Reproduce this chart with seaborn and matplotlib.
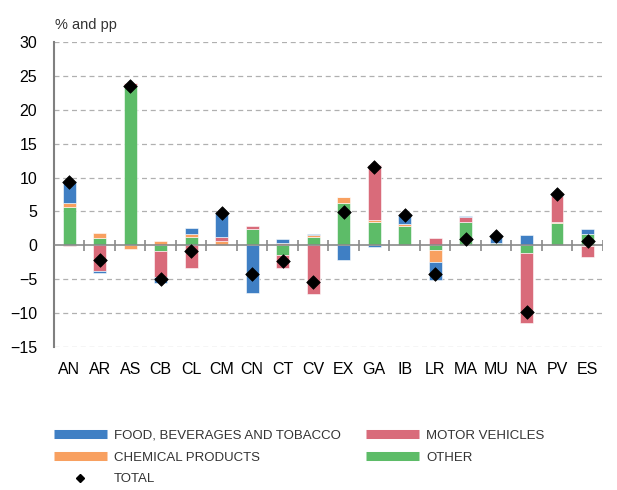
import numpy as np
import pandas as pd
import matplotlib
matplotlib.use('Agg')
import matplotlib.pyplot as plt
from matplotlib.lines import Line2D
import seaborn as sns

# data (% and pp)
regions = ['AN', 'AR', 'AS', 'CB', 'CL', 'CM', 'CN', 'CT', 'CV', 'EX',
           'GA', 'IB', 'LR', 'MA', 'MU', 'NA', 'PV', 'ES']
other = [5.7, 1.13, 23.6, -0.84, 1.23, 0.0, 2.46, -1.48, 1.23, 6.3,
         3.5, 2.86, -0.74, 3.5, 0.3, -1.18, 3.25, 1.67]
chemical = [0.49, 0.64, -0.5, 0.6, 0.44, 0.64, 0.0, 0.35, 0.25, 0.89,
            0.25, 0.3, -1.67, 0.0, 0.0, 0.0, 0.25, -0.1]
motor = [-0.1, -3.84, 0.3, -3.9, -3.4, 0.54, 0.34, -1.82, -7.19, 0.0,
         8.13, 0.0, 1.08, 0.74, 0.0, -10.25, 3.84, -1.57]
food = [3.3, -0.2, 0.0, -0.8, 0.89, 3.64, -7.0, 0.55, 0.25, -2.17,
        -0.3, 1.28, -2.76, 0.1, 1.13, 1.58, 0.25, 0.69]
total = [9.4, -2.2, 23.5, -4.9, -0.84, 4.78, -4.19, -2.3, -5.4, 4.93,
         11.58, 4.43, -4.19, 0.94, 1.43, -9.9, 7.59, 0.69]

colors = {'FOOD, BEVERAGES AND TOBACCO': '#3F7FC4',
          'CHEMICAL PRODUCTS': '#F8A060',
          'MOTOR VEHICLES': '#D96B7A',
          'OTHER': '#5DBC68'}
# stacking order from the zero line outward
stack = [('OTHER', other), ('CHEMICAL PRODUCTS', chemical),
         ('MOTOR VEHICLES', motor), ('FOOD, BEVERAGES AND TOBACCO', food)]

sns.set_style('white')
plt.rcParams['font.family'] = ['Liberation Sans', 'DejaVu Sans']

fig = plt.figure(figsize=(6.17, 4.90), dpi=100)
ax = fig.add_axes([0.0875, 0.292, 0.8895, 0.622])

x = np.arange(len(regions))
pos_base = np.zeros(len(regions))
neg_base = np.zeros(len(regions))
for name, vals in stack:
    v = np.array(vals)
    bottom = np.where(v >= 0, pos_base, neg_base)
    ax.bar(x, v, bottom=bottom, width=0.42, color=colors[name],
           edgecolor='white', linewidth=0.4, zorder=3)
    pos_base += np.where(v >= 0, v, 0)
    neg_base += np.where(v < 0, v, 0)

df_tot = pd.DataFrame({'x': x, 'total': total})
sns.scatterplot(data=df_tot, x='x', y='total', marker='D', s=48,
                color='black', edgecolor='black', linewidth=0.5,
                zorder=5, ax=ax, legend=False)

ax.set_xlim(-0.5, len(regions) - 0.5)
ax.set_ylim(-15, 30)
ax.set_yticks(np.arange(-15, 31, 5))
for yv in np.arange(-15, 31, 5):
    if yv != 0:
        ax.axhline(yv, color='#b0b0b0', linestyle=(0, (4, 3)), linewidth=0.9, zorder=1)
ax.axhline(0, color='#8a8a8a', linewidth=1.2, zorder=4)
ax.vlines(np.arange(0.5, len(regions)), -0.8, 0.8, color='#8a8a8a', linewidth=1.2, zorder=4)

ax.set_xticks(x)
ax.set_xticklabels(regions)
ax.tick_params(axis='both', length=0, labelsize=11.5, colors='black')
ax.tick_params(axis='x', pad=11)
ax.tick_params(axis='y', pad=12)
ax.set_xlabel('')
ax.set_ylabel('')
for s in ['top', 'right', 'bottom']:
    ax.spines[s].set_visible(False)
ax.spines['left'].set_color('#808080')
ax.spines['left'].set_linewidth(1.5)

fig.text(0.089, 0.94, '% and pp', fontsize=10.5, color='#333333')

def patch(c):
    return Line2D([0], [0], color=c, linewidth=6.5, solid_capstyle='butt')

h1 = [patch(colors['FOOD, BEVERAGES AND TOBACCO']), patch(colors['CHEMICAL PRODUCTS']),
      Line2D([0], [0], marker='D', color='black', linestyle='none', markersize=4.5)]
l1 = ['FOOD, BEVERAGES AND TOBACCO', 'CHEMICAL PRODUCTS', 'TOTAL']
h2 = [patch(colors['MOTOR VEHICLES']), patch(colors['OTHER'])]
l2 = ['MOTOR VEHICLES', 'OTHER']

leg_kw = dict(loc='upper left', frameon=False, handlelength=4.0, handletextpad=0.55,
              labelspacing=0.72, borderaxespad=0, borderpad=0.4,
              prop={'size': 9.5}, labelcolor='#333333')
fig.legend(h1, l1, bbox_to_anchor=(0.079, 0.134), **leg_kw)
fig.legend(h2, l2, bbox_to_anchor=(0.585, 0.134), **leg_kw)

fig.savefig('out.png', dpi=100)
